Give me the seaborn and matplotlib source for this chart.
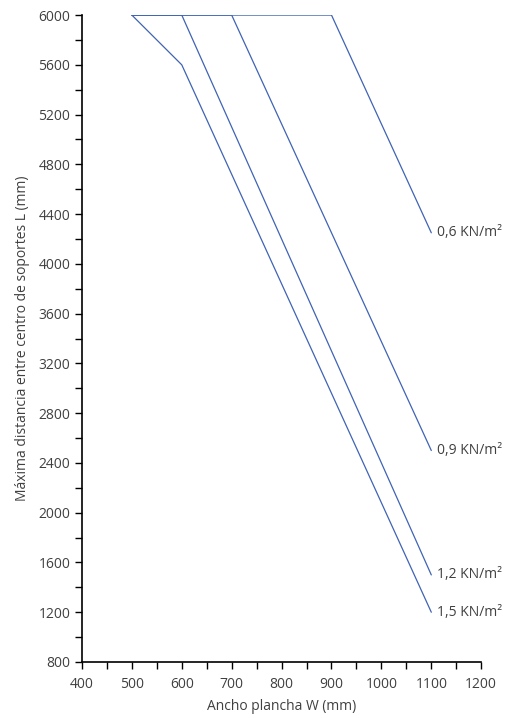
import matplotlib
matplotlib.use("Agg")
import matplotlib.pyplot as plt
import seaborn as sns
import pandas as pd
from matplotlib.ticker import MultipleLocator

# Data
loads = ["0,6 KN/m²", "0,9 KN/m²", "1,2 KN/m²", "1,5 KN/m²"]
w_06 = [500, 900, 1100]
l_06 = [6000, 6000, 4250]
w_09 = [500, 700, 1100]
l_09 = [6000, 6000, 2500]
w_12 = [500, 600, 1100]
l_12 = [6000, 6000, 1500]
w_15 = [500, 600, 1100]
l_15 = [6000, 5600, 1200]

xs = [w_06, w_09, w_12, w_15]
ys = [l_06, l_09, l_12, l_15]

sns.set_style("ticks")
plt.rcParams['font.family'] = ['Open Sans', 'DejaVu Sans']
text_color = "#404040"
fs = 10

fig = plt.figure(figsize=(5.06, 7.18), dpi=100)
ax = fig.add_axes([0.162, 0.078, 0.789, 0.901])

line_color = "#3f63b5"
for name, w, l in zip(loads, xs, ys):
    df = pd.DataFrame({"W": w, "L": l})
    sns.lineplot(data=df, x="W", y="L", sort=False, color=line_color,
                 linewidth=0.9, ax=ax, legend=False)
    ax.text(w[-1] + 12, l[-1], name, ha="left", va="center",
            fontsize=fs, color=text_color)

ax.set_xlim(400, 1200)
ax.set_ylim(800, 6000)
ax.xaxis.set_major_locator(MultipleLocator(100))
ax.xaxis.set_minor_locator(MultipleLocator(50))
ax.yaxis.set_major_locator(MultipleLocator(400))
ax.yaxis.set_minor_locator(MultipleLocator(200))
ax.tick_params(which="both", direction="out", length=5, width=1, color="black",
               labelsize=fs, labelcolor=text_color)
ax.tick_params(axis="x", pad=6)

for s in ["top", "right"]:
    ax.spines[s].set_visible(False)
for s in ["left", "bottom"]:
    ax.spines[s].set_color("black")
    ax.spines[s].set_linewidth(1.2)

ax.set_xlabel("Ancho plancha W (mm)", fontsize=fs, color=text_color, labelpad=5)
ax.set_ylabel("Máxima distancia entre centro de soportes L (mm)", fontsize=fs,
              color=text_color, labelpad=6)

fig.savefig("out.png", dpi=100)
